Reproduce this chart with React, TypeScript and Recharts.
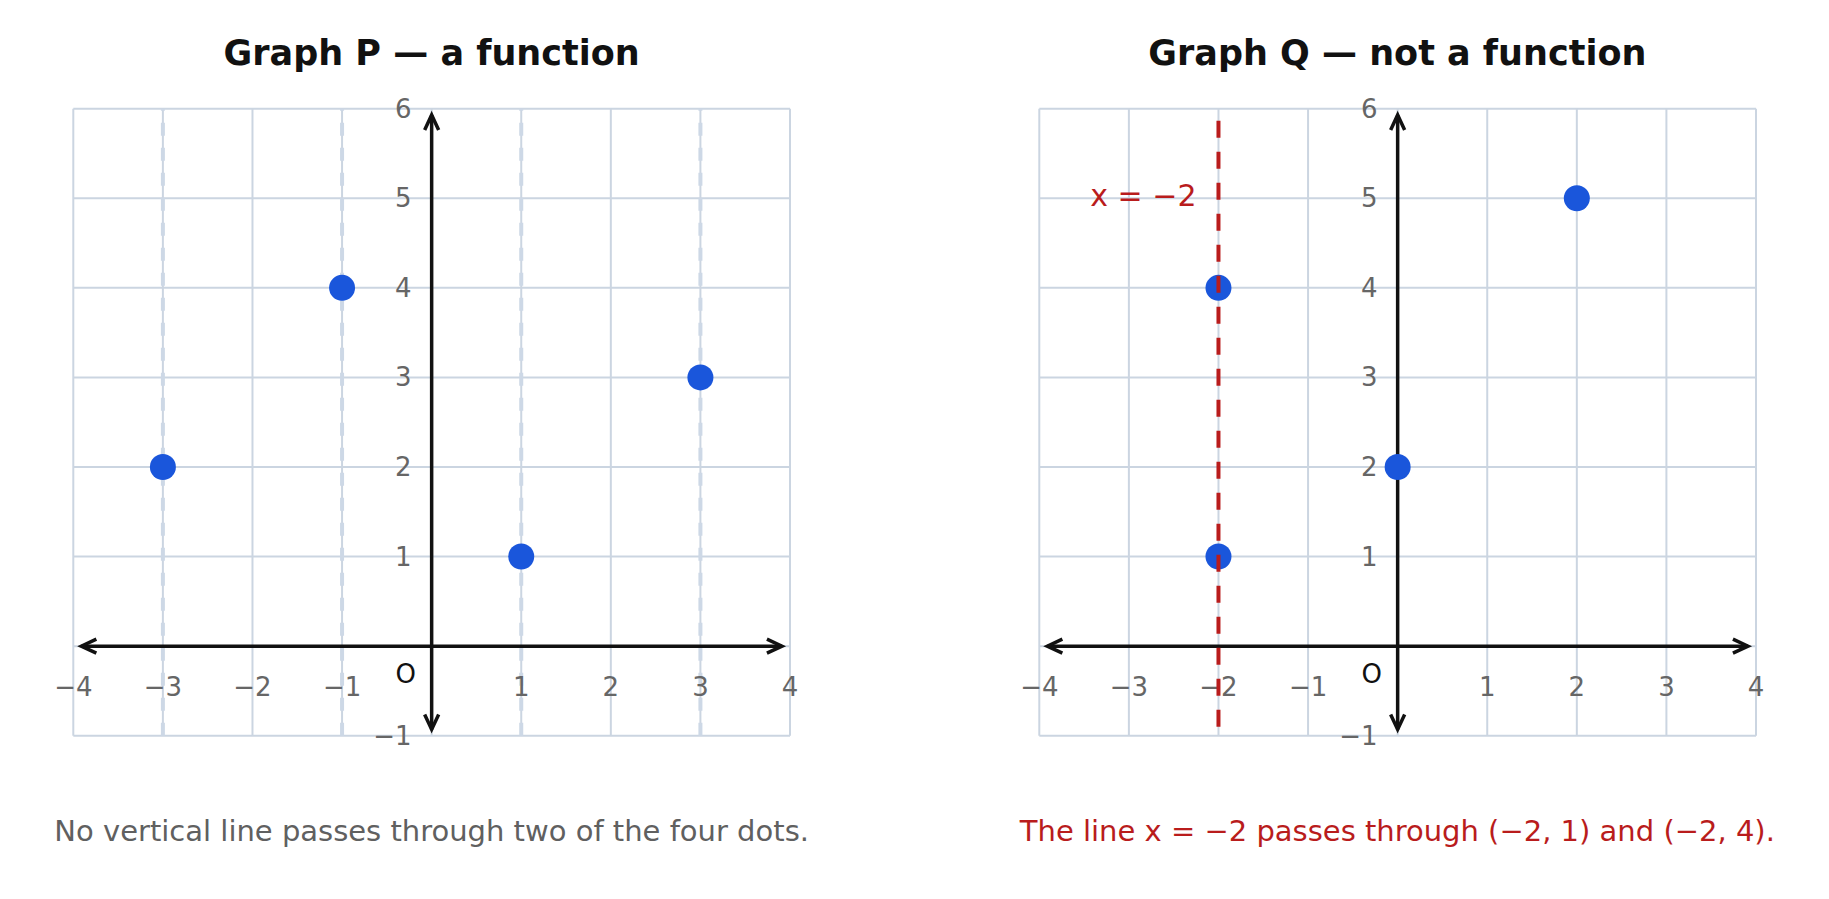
import React from "react";
import {
  ComposedChart,
  Scatter,
  XAxis,
  YAxis,
  CartesianGrid,
  ReferenceLine,
  ReferenceDot,
} from "recharts";

const X_TICKS = [-4, -3, -2, -1, 0, 1, 2, 3, 4];
const Y_TICKS = [-1, 0, 1, 2, 3, 4, 5, 6];
const X_LABELS = [-4, -3, -2, -1, 1, 2, 3, 4];
const Y_LABELS = [-1, 1, 2, 3, 4, 5, 6];

const P_POINTS = [
  { x: -3, y: 2 },
  { x: -1, y: 4 },
  { x: 1, y: 1 },
  { x: 3, y: 3 },
];
const P_TEST_LINES = [-3, -1, 1, 3];

const Q_POINTS = [
  { x: -2, y: 4 },
  { x: -2, y: 1 },
  { x: 0, y: 2 },
  { x: 2, y: 5 },
];
const Q_TEST_LINE = -2;
const Q_LINE_ENDS = [
  { x: Q_TEST_LINE, y: -0.9 },
  { x: Q_TEST_LINE, y: 5.9 },
];

const FONT = '"DejaVu Sans", Verdana, sans-serif';
const GRID = "#cbd5e1";
const DOT = "#1a56db";
const RED = "#b91c1c";
const INK = "#111111";

const minus = (v: number) => (v < 0 ? `\u2212${Math.abs(v)}` : `${v}`);

// axis line with open chevron heads at both ends
function ArrowLine(props: any) {
  const { x1, y1, x2, y2 } = props;
  const ang = Math.atan2(y2 - y1, x2 - x1);
  const len = 15;
  const half = 7;
  const head = (tx: number, ty: number, a: number) => {
    const bx = tx - len * Math.cos(a);
    const by = ty - len * Math.sin(a);
    const nx = -Math.sin(a) * half;
    const ny = Math.cos(a) * half;
    return `${bx + nx},${by + ny} ${tx},${ty} ${bx - nx},${by - ny}`;
  };
  return (
    <g stroke={INK} strokeWidth={3.5} fill="none">
      <line x1={x1} y1={y1} x2={x2} y2={y2} />
      <polyline points={head(x2, y2, ang)} strokeLinejoin="miter" />
      <polyline points={head(x1, y1, ang + Math.PI)} strokeLinejoin="miter" />
    </g>
  );
}

function TextMark({ cx, cy, text, anchor = "middle", dx = 0, dy = 0, fill = "#666", size = 26 }: any) {
  return (
    <text
      x={cx + dx}
      y={cy + dy}
      textAnchor={anchor}
      dominantBaseline="central"
      fontFamily={FONT}
      fontSize={size}
      fill={fill}
    >
      {text}
    </text>
  );
}

const dotShape = (p: any) => <circle cx={p.cx} cy={p.cy} r={13} fill={DOT} />;
const noShape = () => <g />;

function Panel({
  left,
  title,
  caption,
  captionColor,
  points,
  kind,
}: {
  left: number;
  title: string;
  caption: string;
  captionColor: string;
  points: { x: number; y: number }[];
  kind: "P" | "Q";
}) {
  const W = 860;
  const H = 780;
  const margin = { top: 108.7, left: 73.3, right: W - 73.3 - 716.7, bottom: H - 108.7 - 627 };
  const center = left + 73.3 + 716.7 / 2;
  return (
    <>
      <div
        style={{
          position: "absolute",
          left: center - 400,
          width: 800,
          top: 33,
          lineHeight: "40px",
          textAlign: "center",
          fontFamily: FONT,
          fontWeight: "bold",
          fontSize: 35,
          color: INK,
        }}
      >
        {title}
      </div>
      <div style={{ position: "absolute", left, top: 0 }}>
        <ComposedChart width={W} height={H} margin={margin}>
          <CartesianGrid
            stroke={GRID}
            strokeWidth={2}
            verticalValues={X_TICKS}
            horizontalValues={Y_TICKS}
          />
          <XAxis type="number" dataKey="x" domain={[-4, 4]} ticks={X_TICKS} hide allowDataOverflow />
          <YAxis type="number" dataKey="y" domain={[-1, 6]} ticks={Y_TICKS} hide allowDataOverflow />
          {kind === "P" &&
            P_TEST_LINES.map((v) => (
              <ReferenceLine
                key={`t${v}`}
                x={v}
                stroke="#cdd8e6"
                strokeWidth={4}
                strokeDasharray="13 12"
              />
            ))}
          <ReferenceLine
            segment={[
              { x: -3.91, y: 0 },
              { x: 3.91, y: 0 },
            ]}
            shape={ArrowLine}
          />
          <ReferenceLine
            segment={[
              { x: 0, y: -0.93 },
              { x: 0, y: 5.93 },
            ]}
            shape={ArrowLine}
          />
          {X_LABELS.map((v) => (
            <ReferenceDot
              key={`xl${v}`}
              x={v}
              y={0}
              r={0}
              shape={(p: any) => <TextMark cx={p.cx} cy={p.cy} text={minus(v)} dy={41} />}
            />
          ))}
          {Y_LABELS.map((v) => (
            <ReferenceDot
              key={`yl${v}`}
              x={0}
              y={v}
              r={0}
              shape={(p: any) => (
                <TextMark cx={p.cx} cy={p.cy} text={minus(v)} anchor="end" dx={-20} />
              )}
            />
          ))}
          <ReferenceDot
            x={0}
            y={0}
            r={0}
            shape={(p: any) => (
              <TextMark cx={p.cx} cy={p.cy} text="O" dx={-26} dy={28} fill={INK} />
            )}
          />
          <Scatter data={points} shape={dotShape} isAnimationActive={false} />
          {kind === "Q" && (
            <Scatter
              data={Q_LINE_ENDS}
              shape={noShape}
              line={{ stroke: RED, strokeWidth: 4, strokeDasharray: "17 14" }}
              isAnimationActive={false}
            />
          )}
          {kind === "Q" && (
            <ReferenceDot
              x={Q_TEST_LINE}
              y={5}
              r={0}
              shape={(p: any) => (
                <TextMark
                  cx={p.cx}
                  cy={p.cy}
                  text={`x = ${minus(Q_TEST_LINE)}`}
                  anchor="end"
                  dx={-22}
                  dy={-3}
                  fill={RED}
                  size={30}
                />
              )}
            />
          )}
        </ComposedChart>
      </div>
      <div
        style={{
          position: "absolute",
          left: center - 450,
          width: 900,
          top: 814,
          lineHeight: "34px",
          textAlign: "center",
          fontFamily: FONT,
          fontSize: 29,
          color: captionColor,
        }}
      >
        {caption}
      </div>
    </>
  );
}

export default function App() {
  return (
    <div
      style={{
        position: "absolute",
        left: 0,
        top: 0,
        width: 1829,
        height: 899,
        background: "#fff",
        overflow: "hidden",
      }}
    >
      <Panel
        left={0}
        title="Graph P — a function"
        caption="No vertical line passes through two of the four dots."
        captionColor="#606060"
        points={P_POINTS}
        kind="P"
      />
      <Panel
        left={965.7}
        title="Graph Q — not a function"
        caption="The line x = −2 passes through (−2, 1) and (−2, 4)."
        captionColor={RED}
        points={Q_POINTS}
        kind="Q"
      />
    </div>
  );
}
